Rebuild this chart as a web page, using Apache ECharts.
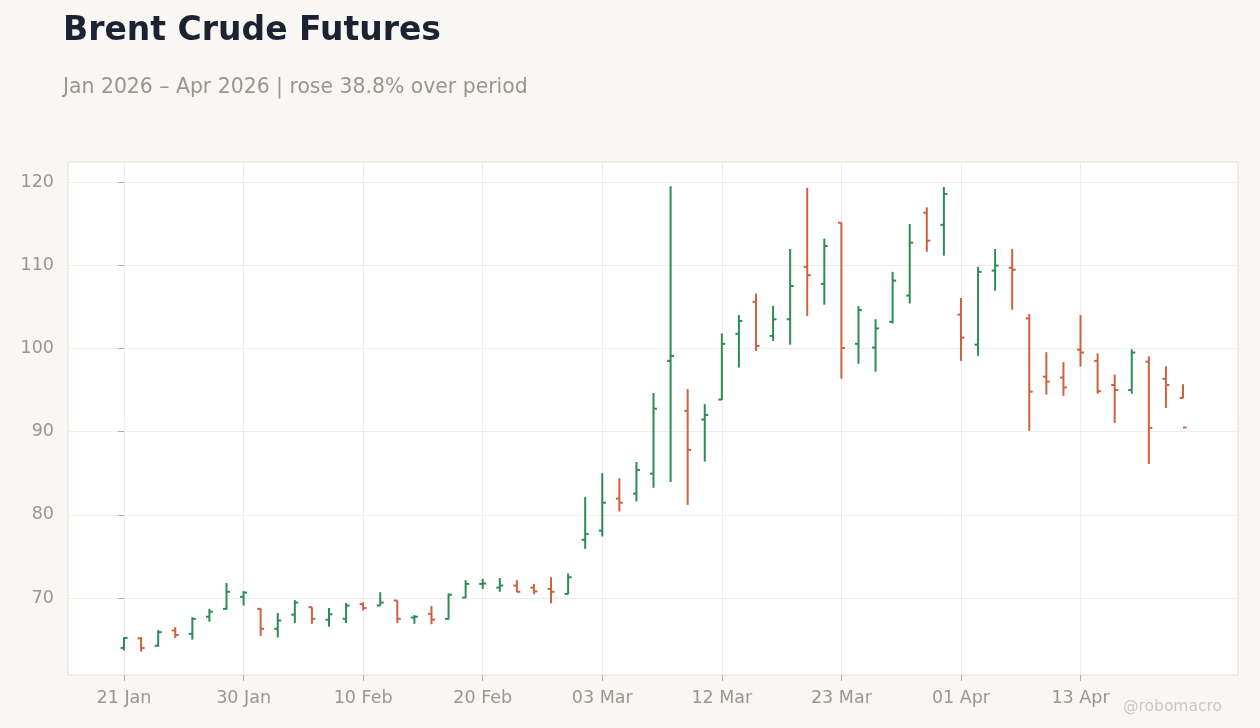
<!DOCTYPE html>
<html>
<head>
<meta charset="utf-8">
<script src="https://cdn.jsdelivr.net/npm/echarts@6/dist/echarts.min.js"></script>
<style>
  html, body { margin: 0; padding: 0; background: #f8f7f4; }
  #chart { width: 1260px; height: 728px; }
</style>
</head>
<body>
<div id="chart"></div>
<script>
// trading days, Jan–Apr 2026
const dates = [
  '21 Jan', '22 Jan', '23 Jan', '26 Jan', '27 Jan', '28 Jan', '29 Jan', '30 Jan',
  '02 Feb', '03 Feb', '04 Feb', '05 Feb', '06 Feb', '09 Feb', '10 Feb', '11 Feb',
  '12 Feb', '13 Feb', '17 Feb', '18 Feb', '19 Feb', '20 Feb', '23 Feb', '24 Feb',
  '25 Feb', '26 Feb', '27 Feb', '02 Mar', '03 Mar', '04 Mar', '05 Mar', '06 Mar',
  '09 Mar', '10 Mar', '11 Mar', '12 Mar', '13 Mar', '16 Mar', '17 Mar', '18 Mar',
  '19 Mar', '20 Mar', '23 Mar', '24 Mar', '25 Mar', '26 Mar', '27 Mar', '30 Mar',
  '31 Mar', '01 Apr', '02 Apr', '06 Apr', '07 Apr', '08 Apr', '09 Apr', '10 Apr',
  '13 Apr', '14 Apr', '15 Apr', '16 Apr', '17 Apr', '20 Apr', '21 Apr',
];

const open = [
  64.0, 65.15, 64.27, 66.1, 65.7, 67.75, 68.7, 70.15, 68.7, 66.3,
  68.0, 68.9, 67.4, 67.5, 69.25, 69.1, 69.7, 67.65, 68.1, 67.5,
  70.05, 71.7, 71.25, 71.5, 71.25, 71.1, 70.5, 77.0, 78.1, 81.95,
  82.55, 84.95, 98.5, 92.5, 91.45, 93.85, 101.75, 105.6, 101.5, 103.5,
  109.8, 107.75, 115.1, 100.55, 100.1, 103.2, 106.35, 116.3, 114.85, 104.05,
  100.45, 109.35, 109.7, 103.6, 96.6, 96.5, 99.85, 98.5, 95.6, 95.0,
  98.4, 96.35, 94.05,
];
const high = [
  65.3, 65.3, 66.15, 66.5, 67.7, 68.7, 71.8, 70.85, 68.75, 68.2,
  69.75, 68.9, 68.8, 69.4, 69.5, 70.7, 69.7, 67.95, 69.05, 70.55,
  72.15, 72.3, 72.4, 72.15, 71.7, 72.5, 72.95, 82.15, 85.0, 84.4,
  86.35, 94.65, 119.5, 95.1, 93.3, 101.8, 104.0, 106.6, 105.1, 111.95,
  119.3, 113.2, 115.1, 105.1, 103.5, 109.2, 114.95, 116.95, 119.4, 106.05,
  109.8, 111.95, 111.95, 104.15, 99.55, 98.35, 104.0, 99.4, 96.85, 99.9,
  99.05, 97.85, 95.7,
];
const low = [
  63.7, 63.55, 64.15, 65.2, 65.0, 67.15, 68.6, 69.1, 65.45, 65.25,
  67.0, 66.9, 66.55, 67.0, 68.5, 69.05, 67.0, 66.9, 66.85, 67.4,
  70.0, 71.1, 70.75, 70.7, 70.45, 69.35, 70.45, 75.9, 77.4, 80.4,
  81.6, 83.25, 83.95, 81.2, 86.4, 93.8, 97.7, 99.7, 100.9, 100.45,
  103.9, 105.25, 96.35, 98.15, 97.2, 103.0, 105.4, 111.6, 111.15, 98.5,
  99.1, 106.95, 104.65, 90.1, 94.45, 94.3, 97.8, 94.55, 91.05, 94.55,
  86.1, 92.85, 94.0,
];
const close = [
  65.2, 64.0, 65.9, 65.55, 67.5, 68.35, 70.75, 70.65, 66.3, 67.3,
  69.45, 67.5, 68.05, 69.1, 68.8, 69.45, 67.5, 67.75, 67.4, 70.4,
  71.7, 71.75, 71.5, 70.75, 70.8, 70.75, 72.5, 77.7, 81.45, 81.45,
  85.4, 92.75, 99.1, 87.8, 92.0, 100.55, 103.3, 100.3, 103.5, 107.5,
  108.8, 112.3, 100.05, 104.6, 102.4, 108.15, 112.7, 112.95, 118.55, 101.3,
  109.2, 109.95, 109.45, 94.8, 96.0, 95.3, 99.5, 94.85, 95.0, 99.5,
  90.45, 95.6, 90.5,
];

const xTicks = [0, 7, 14, 21, 28, 35, 42, 49, 56];
const yTicks = [70, 80, 90, 100, 110, 120];

const UP = '#2e8b57';
const DOWN = '#cc6240';
const MUTED = '#9b958e';
const FONT = 'DejaVu Sans';

const ohlc = dates.map((d, i) => [i, open[i], high[i], low[i], close[i]]);

function renderOhlc(params, api) {
  const i = api.value(0);
  const o = api.value(1), h = api.value(2), l = api.value(3), c = api.value(4);
  const [x, yh] = api.coord([i, h]);
  const yl = api.coord([i, l])[1];
  const yo = api.coord([i, o])[1];
  const yc = api.coord([i, c])[1];
  const style = { stroke: c >= o ? UP : DOWN, lineWidth: 2 };
  return {
    type: 'group',
    children: [
      { type: 'line', shape: { x1: x, y1: yh, x2: x, y2: yl }, style },
      { type: 'line', shape: { x1: x - 3.5, y1: yo, x2: x, y2: yo }, style },
      { type: 'line', shape: { x1: x, y1: yc, x2: x + 3.5, y2: yc }, style },
    ],
  };
}

const chart = echarts.init(document.getElementById('chart'), null, { renderer: 'canvas' });
chart.setOption({
  backgroundColor: '#f8f7f4',
  animation: false,
  textStyle: { fontFamily: FONT },
  title: [
    {
      text: 'Brent Crude Futures', left: 58, top: 10,
      textStyle: { color: '#1b2333', fontSize: 33, fontWeight: 'bold', fontFamily: FONT },
    },
    {
      text: 'Jan 2026 – Apr 2026 | rose 38.8% over period', left: 58, top: 73,
      textStyle: { color: MUTED, fontSize: 20.4, fontWeight: 'normal', fontFamily: FONT },
    },
  ],
  grid: {
    left: 68, right: 22, top: 162, bottom: 53,
    show: true, backgroundColor: '#ffffff', borderColor: '#e2ddd5', borderWidth: 1,
  },
  xAxis: {
    type: 'value', min: -3.28, max: 65.22,
    axisLine: { show: false },
    axisTick: { show: true, customValues: xTicks, length: 6, lineStyle: { color: '#b3ada5' } },
    axisLabel: {
      customValues: xTicks, color: MUTED, fontSize: 17.5, margin: 14,
      formatter: v => dates[Math.round(v)] || '',
    },
    splitLine: { show: true, lineStyle: { color: '#efedea' } },
  },
  yAxis: {
    type: 'value', min: 60.75, max: 122.4,
    axisLine: { show: false },
    axisTick: { show: true, customValues: yTicks, length: 6, lineStyle: { color: '#b3ada5' } },
    axisLabel: { customValues: yTicks, color: MUTED, fontSize: 17.5, margin: 14 },
    splitLine: { show: true, lineStyle: { color: '#efedea' } },
  },
  graphic: [{
    type: 'text', right: 38, bottom: 13,
    style: { text: '@robomacro', fill: '#cdc9c2', fontSize: 15.5, fontFamily: FONT },
  }],
  series: [{
    type: 'custom',
    renderItem: renderOhlc,
    encode: { x: 0, y: [1, 2, 3, 4] },
    clip: true,
    data: ohlc,
  }],
});
</script>
</body>
</html>
